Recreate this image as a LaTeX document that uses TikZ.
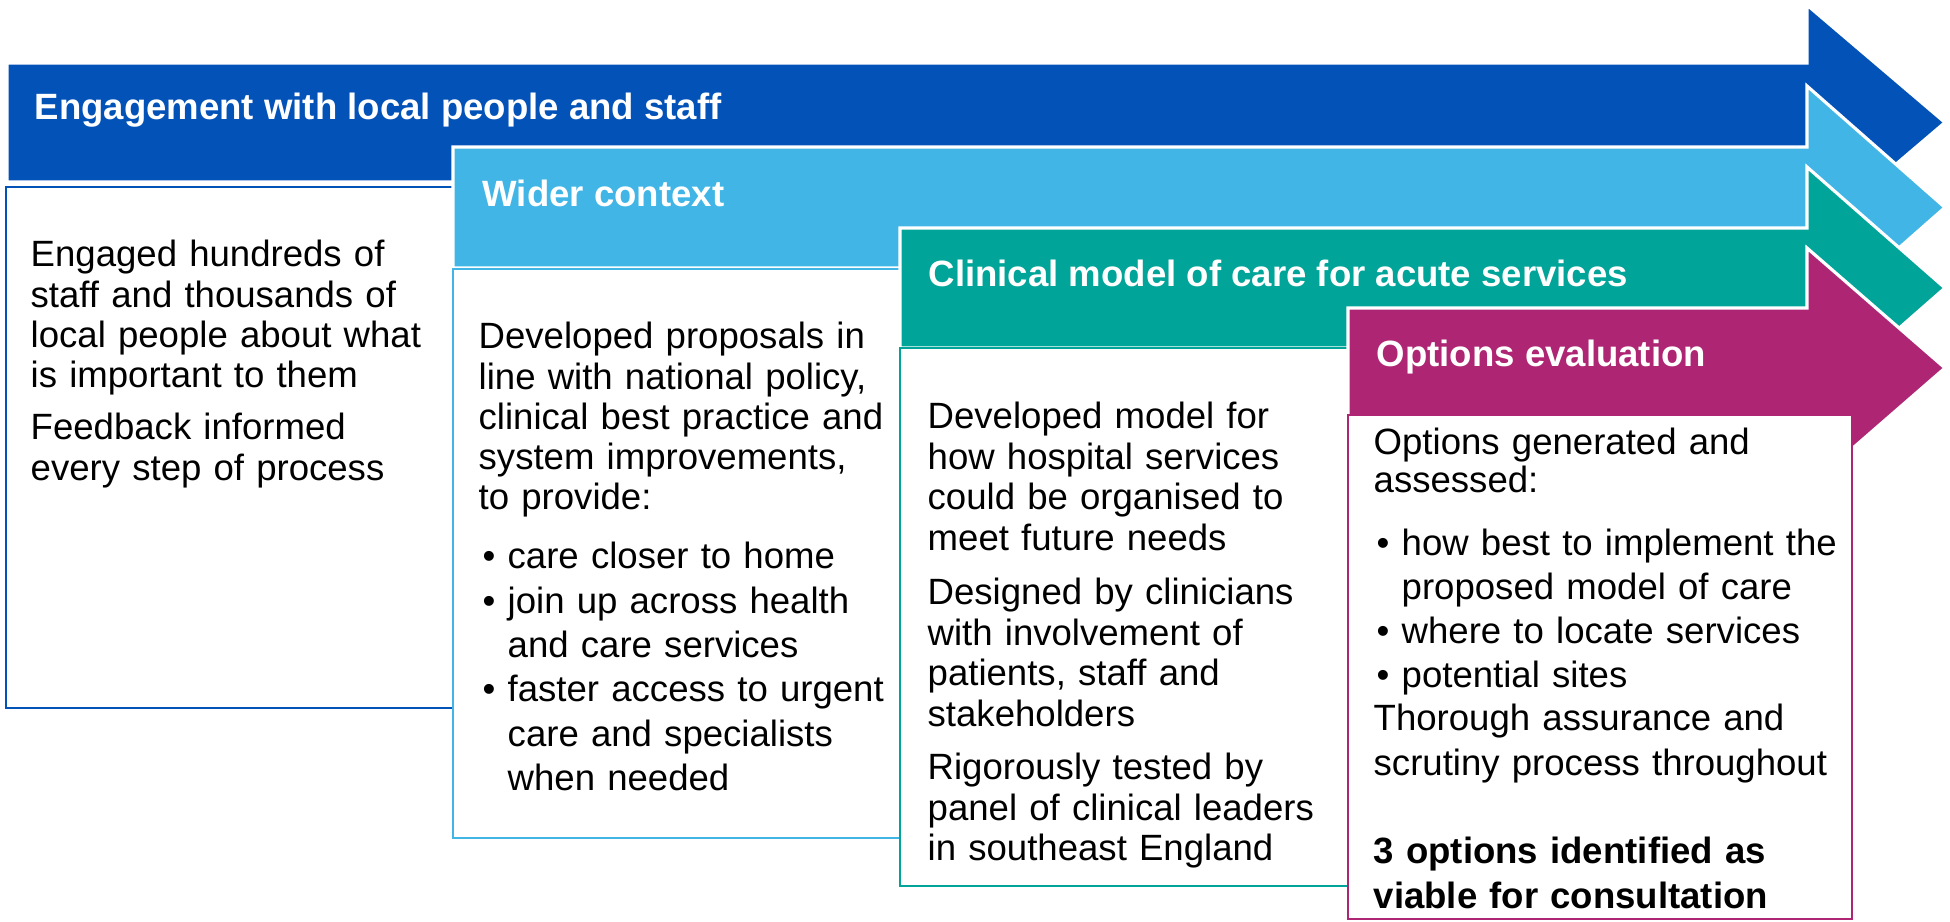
\documentclass[tikz,border=0pt]{standalone}
\usepackage{fontspec}
\setmainfont{Liberation Sans}
\usepackage{tikz}

\definecolor{engblue}{HTML}{0352B8}
\definecolor{widerblue}{HTML}{41B6E6}
\definecolor{clinteal}{HTML}{00A499}
\definecolor{optpink}{HTML}{AE2573}

\newcommand{\bitem}{\makebox[0.25cm][l]{\textbullet}}
\newcommand{\bcont}{\hspace*{0.25cm}}

\tikzset{
    band/.style={draw=white, line width=0.9pt, line join=miter},
    panel/.style={fill=white, line width=0.7pt},
    title/.style={anchor=base west, inner sep=0pt, text=white,
        font=\fontsize{10.4}{12.5}\selectfont\bfseries},
    body/.style={anchor=base west, inner sep=0pt, align=left, text width=5cm,
        font=\fontsize{10.4}{#1}\selectfont},
    body/.default=11.4pt
}

\begin{document}
\begin{tikzpicture}[x=0.01cm, y=-0.01cm]
        \useasboundingbox (0,0) rectangle (1950,922);

        % Arrows and boxes, back to front
        \fill[band, fill=engblue] (7,63) -- (1807,63) -- (1807,5) -- (1945,122.5)
            -- (1807,240) -- (1807,182) -- (7,182) -- cycle;
        \draw[panel, draw=engblue] (6,187) rectangle (453,708);

        \fill[band, fill=widerblue] (453,147) -- (1807,147) -- (1807,86) -- (1945,207.5)
            -- (1807,329) -- (1807,268) -- (453,268) -- cycle;
        \draw[panel, draw=widerblue] (453,269) rectangle (900,838);

        \fill[band, fill=clinteal] (900,228) -- (1807,228) -- (1807,167) -- (1945,288)
            -- (1807,409) -- (1807,348) -- (900,348) -- cycle;
        \draw[panel, draw=clinteal] (900,348) rectangle (1348,886);

        \fill[band, fill=optpink] (1348,308) -- (1807,308) -- (1807,248) -- (1945,368)
            -- (1807,488) -- (1807,428) -- (1348,428) -- cycle;
        \draw[panel, draw=optpink] (1348,415) rectangle (1852,919);

        % Titles
        \node[title] (engage) at (34,120) {Engagement with local people and staff};
        \node[title] (wider) at (482,207) {Wider context};
        \node[title] (clinical) at (928,287) {Clinical model of care for acute services};
        \node[title] (options) at (1376,367) {Options evaluation};

        % Engagement text
        \node[body] (eng1) at (30,267) {Engaged hundreds of\\staff and thousands of\\local people about what\\is important to them};
        \node[body] (eng2) at (30,440) {Feedback informed\\every step of process};

        % Wider context text
        \node[body] (wid1) at (478,349) {Developed proposals in\\line with national policy,\\clinical best practice and\\system improvements,\\to provide:};
        \node[body=12.6pt] (wid2) at (482,569) {\bitem care closer to home\\\bitem join up across health\\\bcont and care services\\\bitem faster access to urgent\\\bcont care and specialists\\\bcont when needed};

        % Clinical model text
        \node[body=11.5pt] (cli1) at (927,429) {Developed model for\\how hospital services\\could be organised to\\meet future needs};
        \node[body=11.5pt] (cli2) at (927,605) {Designed by clinicians\\with involvement of\\patients, staff and\\stakeholders};
        \node[body=11.5pt] (cli3) at (927,780) {Rigorously tested by\\panel of clinical leaders\\in southeast England};

        % Options text
        \node[body=10.8pt] (opt1) at (1373,455) {Options generated and\\assessed:};
        \node[body=12.5pt] (opt2) at (1376,556) {\bitem how best to implement the\\\bcont proposed model of care\\\bitem where to locate services\\\bitem potential sites};
        \node[body=12.6pt] (opt3) at (1373,731) {Thorough assurance and\\scrutiny process throughout};
        \node[body=12.6pt, font=\fontsize{10.4}{12.6}\selectfont\bfseries] (opt4) at (1373,864) {3 options identified as\\viable for consultation};
    \end{tikzpicture}
\end{document}
